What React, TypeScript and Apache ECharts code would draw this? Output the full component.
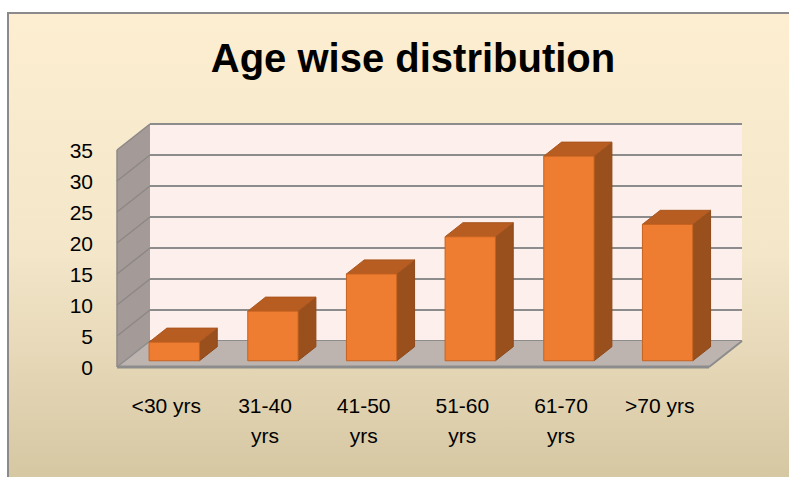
import React, { useEffect, useRef } from "react";
import * as echarts from "echarts";

const categories = ["<30 yrs", "31-40 yrs", "41-50 yrs", "51-60 yrs", "61-70 yrs", ">70 yrs"];
const values = [3, 8, 14, 20, 33, 22];
const yMin = 0;
const yMax = 35;
const yInterval = 5;
const titleText = "Age wise distribution";

// 3D depth offset from back wall to front edge (pixels)
const DX = -33;
const DY = 26;
const BAR_FRONT = 0.76;
const BAR_BACK = 0.22;

export default function App() {
  const ref = useRef<HTMLDivElement>(null);
  useEffect(() => {
    if (!ref.current) return;
    const chart = echarts.init(ref.current, null, { renderer: "svg" });
    const ticks: number[] = [];
    for (let v = yMin; v <= yMax; v += yInterval) ticks.push(v);

    const frameRender = (params: any, api: any) => {
      const band = api.size([1, 0])[0];
      const p0 = api.coord([0, 0]);
      const pN = api.coord([categories.length - 1, 0]);
      const left = p0[0] - band / 2;
      const right = pN[0] + band / 2;
      const yBot = p0[1];
      const yTop = api.coord([0, yMax])[1];
      const children: any[] = [
        {
          type: "polygon",
          shape: { points: [[left, yTop], [left, yBot], [left + DX, yBot + DY], [left + DX, yTop + DY]] },
          style: { fill: "#a49b98" },
        },
        {
          type: "polygon",
          shape: { points: [[left, yBot], [right, yBot], [right + DX, yBot + DY], [left + DX, yBot + DY]] },
          style: { fill: "#bdb4b0" },
        },
      ];
      ticks.forEach((t) => {
        if (t === 0) return;
        const y = api.coord([0, t])[1];
        children.push({
          type: "line",
          shape: { x1: left, y1: y, x2: left + DX, y2: y + DY },
          style: { stroke: "#8d8787", lineWidth: 1.5 },
        });
      });
      children.push({
        type: "line",
        shape: { x1: left + DX, y1: yBot + DY, x2: right + DX, y2: yBot + DY },
        style: { stroke: "#8c8c8c", lineWidth: 3 },
      });
      children.push({
        type: "line",
        shape: { x1: right, y1: yBot, x2: right + DX, y2: yBot + DY },
        style: { stroke: "#8c8c8c", lineWidth: 2 },
      });
      children.push({
        type: "line",
        shape: { x1: left, y1: yBot, x2: left + DX, y2: yBot + DY },
        style: { stroke: "#8c8c8c", lineWidth: 1.5 },
      });
      children.push({
        type: "line",
        shape: { x1: left + DX, y1: yTop + DY, x2: left + DX, y2: yBot + DY },
        style: { stroke: "#8f8a88", lineWidth: 1.5 },
      });
      return { type: "group", children };
    };

    const barRender = (params: any, api: any) => {
      const i = api.value(0);
      const v = api.value(1);
      const base = api.coord([i, 0]);
      const top = api.coord([i, v]);
      const band = api.size([1, 0])[0];
      const w = band * 0.51;
      const fx = DX * BAR_FRONT, fy = DY * BAR_FRONT;
      const bx = DX * BAR_BACK, by = DY * BAR_BACK;
      const x0 = base[0] - w / 2;
      const x1 = base[0] + w / 2;
      const yb = base[1];
      const yt = top[1];
      return {
        type: "group",
        children: [
          {
            type: "polygon",
            shape: { points: [[x1 + fx, yt + fy], [x1 + bx, yt + by], [x1 + bx, yb + by], [x1 + fx, yb + fy]] },
            style: { fill: "#9a501d", stroke: "#8c491a", lineWidth: 1 },
          },
          {
            type: "polygon",
            shape: { points: [[x0 + fx, yt + fy], [x1 + fx, yt + fy], [x1 + bx, yt + by], [x0 + bx, yt + by]] },
            style: { fill: "#b75d21", stroke: "#a9561f", lineWidth: 1 },
          },
          {
            type: "rect",
            shape: { x: x0 + fx, y: yt + fy, width: w, height: yb - yt },
            style: { fill: "#ef7d31", stroke: "#c6621f", lineWidth: 1 },
          },
        ],
      };
    };

    const labelFont = "'Liberation Sans', Arial, sans-serif";
    chart.setOption({
      animation: false,
      title: {
        text: titleText,
        left: 408,
        top: 33,
        textAlign: "center",
        textStyle: { fontSize: 40, fontWeight: "bold", color: "#000", fontFamily: labelFont },
      },
      grid: [
        { left: 150, top: 124, width: 592, height: 217, show: true, backgroundColor: "#fdefeb", borderWidth: 0 },
        { left: 117, top: 150, width: 592, height: 217 },
      ],
      xAxis: [
        {
          gridIndex: 0, type: "category", data: categories,
          axisLine: { show: false }, axisTick: { show: false }, axisLabel: { show: false }, splitLine: { show: false },
        },
        {
          gridIndex: 1, type: "category", data: categories,
          axisLine: { show: false }, axisTick: { show: false }, splitLine: { show: false },
          axisLabel: {
            interval: 0, fontSize: 21, lineHeight: 30, color: "#000", margin: 23, fontFamily: labelFont,
            formatter: (v: string) => (v.includes("-") ? v.replace(" ", "\n") : v),
          },
        },
      ],
      yAxis: [
        {
          gridIndex: 0, type: "value", min: yMin, max: yMax, interval: yInterval,
          axisLine: { show: false }, axisTick: { show: false }, axisLabel: { show: false },
          splitLine: { show: true, lineStyle: { color: "#8c8c8c", width: 2 } },
        },
        {
          gridIndex: 1, type: "value", min: yMin, max: yMax, interval: yInterval,
          axisLine: { show: false }, axisTick: { show: false }, splitLine: { show: false },
          axisLabel: { fontSize: 21, color: "#000", margin: 24, fontFamily: labelFont },
        },
      ],
      series: [
        {
          type: "custom", name: "frame", xAxisIndex: 0, yAxisIndex: 0,
          data: [[0, 0]], renderItem: frameRender, silent: true, z: 1,
        },
        {
          type: "custom", name: "Age wise distribution", xAxisIndex: 0, yAxisIndex: 0,
          data: values.map((v, i) => [i, v]), encode: { x: 0, y: 1 }, renderItem: barRender, z: 3,
        },
      ],
    });
    return () => chart.dispose();
  }, []);

  return (
    <div style={{ position: "absolute", left: 0, top: 0, width: 789, height: 477, background: "#fff", overflow: "hidden" }}>
      <div
        style={{
          position: "absolute", left: 7, top: 12, width: 800, height: 480,
          borderLeft: "2px solid #8a8a8a", borderTop: "2px solid #8a8a8a",
          background: "linear-gradient(180deg, #fdeed1 0%, #f3e6c9 50%, #d4c5a0 100%)",
        }}
      />
      <div ref={ref} style={{ position: "absolute", left: 0, top: 0, width: 789, height: 477 }} />
    </div>
  );
}
